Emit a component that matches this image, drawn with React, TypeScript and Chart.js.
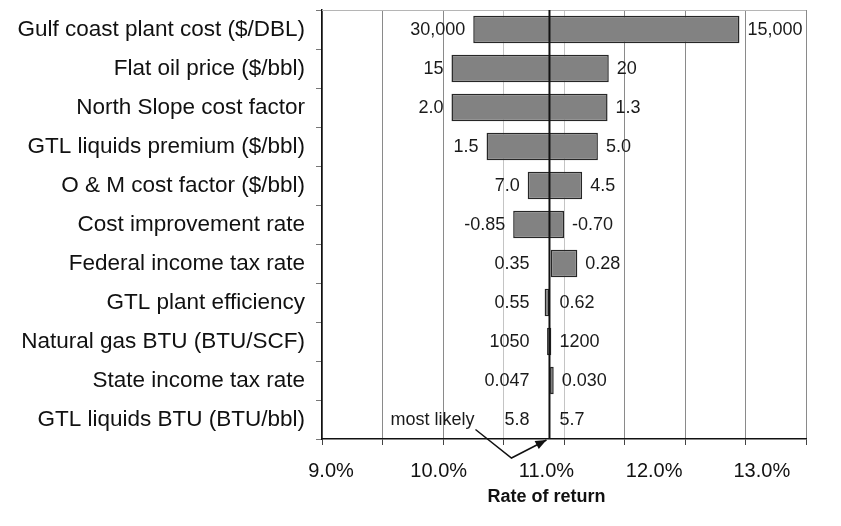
import React, { useEffect, useRef } from "react";
import { Chart, registerables } from "chart.js";

Chart.register(...registerables);

const categories = [
  "Gulf coast plant cost ($/DBL)",
  "Flat oil price ($/bbl)",
  "North Slope cost factor",
  "GTL liquids premium ($/bbl)",
  "O & M cost factor ($/bbl)",
  "Cost improvement rate",
  "Federal income tax rate",
  "GTL plant efficiency",
  "Natural gas BTU (BTU/SCF)",
  "State income tax rate",
  "GTL liquids BTU (BTU/bbl)",
];
// rate of return (%) at the left and right end of each bar
const lowReturn = [10.25, 10.07, 10.07, 10.36, 10.7, 10.58, 10.89, 10.84, 10.86, 10.885, 10.878];
const highReturn = [12.45, 11.37, 11.36, 11.28, 11.15, 11.0, 11.11, 10.88, 10.895, 10.915, 10.884];
// input values written at the bar ends
const lowLabels = ["30,000", "15", "2.0", "1.5", "7.0", "-0.85", "0.35", "0.55", "1050", "0.047", "5.8"];
const highLabels = ["15,000", "20", "1.3", "5.0", "4.5", "-0.70", "0.28", "0.62", "1200", "0.030", "5.7"];
const mostLikely = 10.88;
const xTickValues = [9, 10, 11, 12, 13];
const xTitle = "Rate of return";
const mostLikelyText = "most likely";

const FONT = "'Liberation Sans', Arial, Helvetica, sans-serif";

export default function App() {
  const ref = useRef<HTMLCanvasElement>(null);

  useEffect(() => {
    document.body.style.margin = "0";
    const canvas = ref.current!;
    const labelPlugin = {
      id: "tornadoLabels",
      afterDatasetsDraw(chart: any) {
        const { ctx, chartArea, scales } = chart;
        const x = scales.x;
        const y = scales.y;
        const x2 = scales.x2;
        const xb = x.getPixelForValue(mostLikely);
        ctx.save();
        // faint top frame
        ctx.strokeStyle = "#b5b5b5";
        ctx.lineWidth = 1;
        ctx.beginPath();
        ctx.moveTo(chartArea.left, chartArea.top + 0.5);
        ctx.lineTo(chartArea.right, chartArea.top + 0.5);
        ctx.stroke();
        // most likely line
        ctx.strokeStyle = "#111";
        ctx.lineWidth = 2;
        ctx.beginPath();
        ctx.moveTo(xb, chartArea.top);
        ctx.lineTo(xb, chartArea.bottom);
        ctx.stroke();
        // value labels
        ctx.font = `18px ${FONT}`;
        ctx.fillStyle = "#1a1a1a";
        ctx.textBaseline = "middle";
        categories.forEach((_, i) => {
          const yc = y.getPixelForValue(i) + 1;
          const xl = x.getPixelForValue(lowReturn[i]);
          const xh = x.getPixelForValue(highReturn[i]);
          ctx.textAlign = "right";
          ctx.fillText(lowLabels[i], Math.min(xl - 8, xb - 20), yc);
          ctx.textAlign = "left";
          ctx.fillText(highLabels[i], Math.max(xh + 8, xb + 10), yc);
        });
        // most likely annotation
        const last = categories.length - 1;
        const yl = y.getPixelForValue(last) + 1;
        ctx.font = `18px ${FONT}`;
        ctx.textAlign = "right";
        ctx.fillText(mostLikelyText, xb - 75, yl);
        ctx.strokeStyle = "#111";
        ctx.lineWidth = 1.5;
        const sx = xb - 74, sy = yl + 9;
        const mx = xb - 38, my = chartArea.bottom + 19;
        const tx = xb - 3, ty = chartArea.bottom + 1;
        ctx.beginPath();
        ctx.moveTo(sx, sy);
        ctx.lineTo(mx, my);
        ctx.lineTo(tx, ty);
        ctx.stroke();
        const ang = Math.atan2(ty - my, tx - mx);
        const L = 11, W = 4.5;
        ctx.beginPath();
        ctx.moveTo(tx, ty);
        ctx.lineTo(tx - L * Math.cos(ang) + W * Math.sin(ang), ty - L * Math.sin(ang) - W * Math.cos(ang));
        ctx.lineTo(tx - L * Math.cos(ang) - W * Math.sin(ang), ty - L * Math.sin(ang) + W * Math.cos(ang));
        ctx.closePath();
        ctx.fillStyle = "#111";
        ctx.fill();
        // axis title, centred under the middle tick label
        ctx.font = `bold 18px ${FONT}`;
        ctx.textAlign = "center";
        ctx.fillStyle = "#111";
        ctx.fillText(xTitle, x2.getPixelForValue(xTickValues[2]), chartArea.bottom + 58);
        ctx.restore();
      },
    };

    const chart = new Chart(canvas, {
      type: "bar",
      data: {
        labels: categories,
        datasets: [
          {
            data: categories.map((_, i) => [lowReturn[i], highReturn[i]]) as any,
            backgroundColor: "#828282",
            borderColor: "#262626",
            borderWidth: 1.5,
            borderSkipped: false,
            barPercentage: 0.7,
            categoryPercentage: 1,
          },
        ],
      },
      options: {
        indexAxis: "y",
        responsive: false,
        animation: false,
        layout: { padding: { top: 10, right: 35, bottom: 0, left: 0 } },
        plugins: { legend: { display: false }, tooltip: { enabled: false } },
        scales: {
          y: {
            type: "category",
            position: "left",
            grid: { display: true, drawOnChartArea: false, drawTicks: true, tickLength: 6, offset: true, color: "#777" },
            border: { display: true, color: "#111", width: 1.5 },
            ticks: { color: "#111", font: { family: FONT, size: 22.5 }, padding: 11 },
            afterFit(s: any) {
              s.width = 322;
              s.paddingTop = 0;
              s.paddingBottom = 0;
            },
          },
          x: {
            type: "linear",
            position: "bottom",
            min: 9,
            max: 13,
            ticks: { stepSize: 0.5, display: false },
            grid: {
              color: (c: any) => (c.tick && (c.tick.value === 10.5 || c.tick.value === 11) ? "#c4c4c4" : "#8a8a8a"),
              tickColor: "#444",
              tickLength: 6,
              drawTicks: true,
            },
            border: { color: "#111", width: 1.5 },
            afterFit(s: any) {
              s.height = 6;
              s.paddingLeft = 0;
              s.paddingRight = 0;
            },
          },
          x2: {
            type: "linear",
            position: "bottom",
            min: 8.9164,
            max: 13.41,
            grid: { display: false },
            border: { display: false },
            afterBuildTicks(s: any) {
              s.ticks = xTickValues.map((v) => ({ value: v }));
            },
            ticks: {
              autoSkip: false,
              maxRotation: 0,
              color: "#111",
              padding: 6,
              font: { family: FONT, size: 20 },
              callback: (v: any) => Number(v).toFixed(1) + "%",
            },
            afterFit(s: any) {
              s.height = 81;
              s.paddingLeft = 0;
              s.paddingRight = 0;
            },
          },
        } as any,
      },
      plugins: [labelPlugin],
    });
    return () => chart.destroy();
  }, []);

  return (
    <div style={{ width: 841, height: 526, background: "#fff" }}>
      <canvas ref={ref} width={841} height={526} style={{ display: "block" }} />
    </div>
  );
}
